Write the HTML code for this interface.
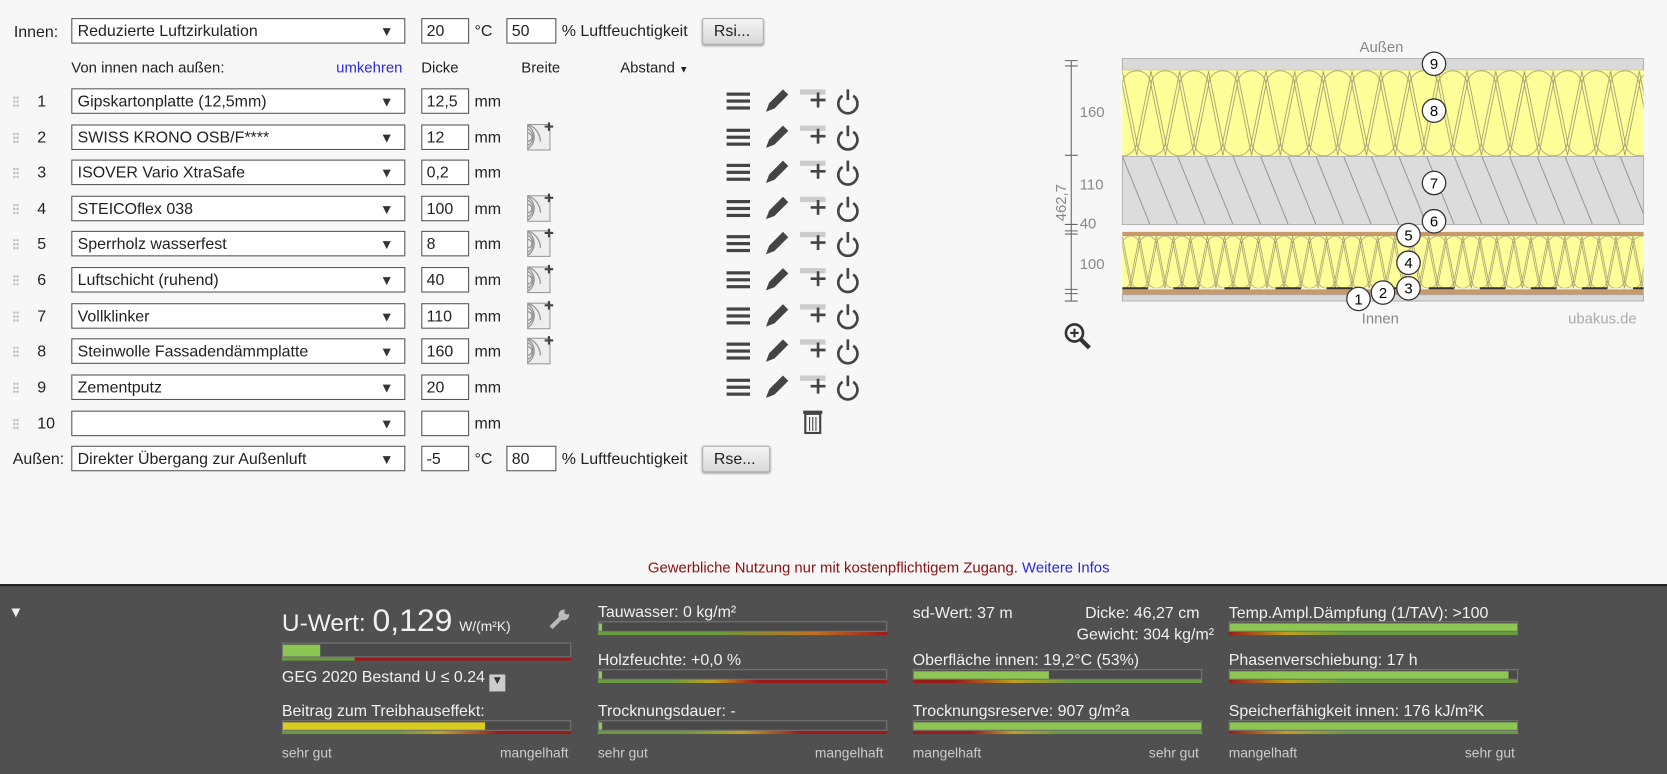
<!DOCTYPE html>
<html><head><meta charset="utf-8"><style>
html,body{margin:0;padding:0;background:#f7f7f7;overflow:hidden}
#w{position:absolute;left:0;top:0;width:1567px;height:726px;transform:scale(1.06382);transform-origin:0 0;font-family:"Liberation Sans",sans-serif;font-size:15px;color:#222;background:#f7f7f7}
.a{position:absolute;white-space:nowrap}
.sel{position:absolute;left:67px;width:314px;height:24px;border:1px solid #555;background:#fff;box-sizing:border-box;padding:3px 5px;font-size:15px}
.sel:after{content:"▼";position:absolute;right:10px;top:4px;font-size:13px;color:#333}
.in{position:absolute;height:24px;border:1px solid #555;background:#fff;box-sizing:border-box;padding:3px 4px}
.btn{position:absolute;height:25px;border:1px solid #aaa;border-radius:2px;background:linear-gradient(#f4f4f4,#d8d8d8);box-sizing:border-box;padding:3px 10px;box-shadow:0 1px 2px #999}
.dots{position:absolute;left:12px;width:6px;height:11px;background:radial-gradient(circle,#bbb 1px,transparent 1.3px) 0 0/3px 3.7px}
#b{position:absolute;left:0;top:549px;width:1567px;height:177px;background:#505050;border-top:2px solid #222;color:#eee}
#b .a{color:#f0f0f0}
.bar{position:absolute;height:10px;border:1px solid #777;box-sizing:border-box;background:#4a4a4a}
.fill{position:absolute;left:0;top:1px;height:7px;background:#8dc653}
.sc{position:absolute;height:3px}
.small{font-size:13px;color:#ccc!important}
</style></head><body><div id="w">

<div class="a" style="left:13px;top:22px">Innen:</div>
<div class="sel" style="top:17px">Reduzierte Luftzirkulation</div>
<div class="in" style="left:396px;top:17px;width:45px">20</div>
<div class="a" style="left:446px;top:21px">°C</div>
<div class="in" style="left:476px;top:17px;width:47px">50</div>
<div class="a" style="left:528px;top:21px">% Luftfeuchtigkeit</div>
<div class="btn" style="left:660px;top:17px;width:58px">Rsi...</div>

<div class="a" style="left:67px;top:55px;font-size:14px">Von innen nach außen:</div>
<div class="a" style="left:316px;top:55px;font-size:14px;color:#2a2ae0">umkehren</div>
<div class="a" style="left:396px;top:55px;font-size:14px">Dicke</div>
<div class="a" style="left:490px;top:55px;font-size:14px">Breite</div>
<div class="a" style="left:583px;top:55px;font-size:14px">Abstand <span style="font-size:9px">▼</span></div>

<svg width="0" height="0" style="position:absolute"><defs>
<g id="ic">
<rect x="683" y="-8" width="22" height="3" fill="#444"/><rect x="683" y="-1.5" width="22" height="3" fill="#444"/><rect x="683" y="5" width="22" height="3" fill="#444"/>
<path d="M720 10 l3-8 13-13 5 5-13 13z" fill="#444"/>
<rect x="752" y="-11" width="24" height="5" fill="#ccc"/><path d="M769-8v14M762-1h14" stroke="#444" stroke-width="2.5"/>
<path d="M792-5 a9 9 0 1 0 10 0" fill="none" stroke="#444" stroke-width="2.5"/><path d="M797-11v10" stroke="#444" stroke-width="2.5"/>
</g>
<g id="wd"><rect x="496" y="-12" width="21" height="24" fill="#eee" stroke="#999"/><path d="M496-8a9 9 0 0 1 0 16M496-4a4 4 0 0 1 0 8M496-11a13 13 0 0 1 0 22M496-12a17 17 0 0 1 12 16" fill="none" stroke="#999" stroke-width="1.3"/><path d="M516-14v8M512-10h8" stroke="#444" stroke-width="2"/></g>
</defs></svg>

<svg class="a" style="left:0;top:0" width="860" height="420">
<g transform="translate(0,95)"><use href="#ic"/></g>
<g transform="translate(0,129)"><use href="#ic"/><use href="#wd"/></g>
<g transform="translate(0,162)"><use href="#ic"/></g>
<g transform="translate(0,196)"><use href="#ic"/><use href="#wd"/></g>
<g transform="translate(0,229)"><use href="#ic"/><use href="#wd"/></g>
<g transform="translate(0,263)"><use href="#ic"/><use href="#wd"/></g>
<g transform="translate(0,297)"><use href="#ic"/><use href="#wd"/></g>
<g transform="translate(0,330)"><use href="#ic"/><use href="#wd"/></g>
<g transform="translate(0,364)"><use href="#ic"/></g>
<g transform="translate(0,398)"><rect x="757" y="-9" width="14" height="18" fill="none" stroke="#444" stroke-width="2"/><rect x="755" y="-12" width="18" height="3" fill="#444"/><path d="M761-6v13M764-6v13M767-6v13" stroke="#444"/></g>
</svg>

<div class="dots" style="top:90px"></div><div class="a" style="left:35px;top:87px">1</div><div class="sel" style="top:83px">Gipskartonplatte (12,5mm)</div><div class="in" style="left:396px;top:83px;width:45px">12,5</div><div class="a" style="left:446px;top:87px">mm</div>
<div class="dots" style="top:124px"></div><div class="a" style="left:35px;top:121px">2</div><div class="sel" style="top:117px">SWISS KRONO OSB/F****</div><div class="in" style="left:396px;top:117px;width:45px">12</div><div class="a" style="left:446px;top:121px">mm</div>
<div class="dots" style="top:157px"></div><div class="a" style="left:35px;top:154px">3</div><div class="sel" style="top:150px">ISOVER Vario XtraSafe</div><div class="in" style="left:396px;top:150px;width:45px">0,2</div><div class="a" style="left:446px;top:154px">mm</div>
<div class="dots" style="top:191px"></div><div class="a" style="left:35px;top:188px">4</div><div class="sel" style="top:184px">STEICOflex 038</div><div class="in" style="left:396px;top:184px;width:45px">100</div><div class="a" style="left:446px;top:188px">mm</div>
<div class="dots" style="top:224px"></div><div class="a" style="left:35px;top:221px">5</div><div class="sel" style="top:217px">Sperrholz wasserfest</div><div class="in" style="left:396px;top:217px;width:45px">8</div><div class="a" style="left:446px;top:221px">mm</div>
<div class="dots" style="top:258px"></div><div class="a" style="left:35px;top:255px">6</div><div class="sel" style="top:251px">Luftschicht (ruhend)</div><div class="in" style="left:396px;top:251px;width:45px">40</div><div class="a" style="left:446px;top:255px">mm</div>
<div class="dots" style="top:292px"></div><div class="a" style="left:35px;top:289px">7</div><div class="sel" style="top:285px">Vollklinker</div><div class="in" style="left:396px;top:285px;width:45px">110</div><div class="a" style="left:446px;top:289px">mm</div>
<div class="dots" style="top:325px"></div><div class="a" style="left:35px;top:322px">8</div><div class="sel" style="top:318px">Steinwolle Fassadendämmplatte</div><div class="in" style="left:396px;top:318px;width:45px">160</div><div class="a" style="left:446px;top:322px">mm</div>
<div class="dots" style="top:359px"></div><div class="a" style="left:35px;top:356px">9</div><div class="sel" style="top:352px">Zementputz</div><div class="in" style="left:396px;top:352px;width:45px">20</div><div class="a" style="left:446px;top:356px">mm</div>
<div class="dots" style="top:393px"></div><div class="a" style="left:35px;top:390px">10</div><div class="sel" style="top:386px"></div><div class="in" style="left:396px;top:386px;width:45px"></div><div class="a" style="left:446px;top:390px">mm</div>

<div class="a" style="left:12px;top:423px">Außen:</div>
<div class="sel" style="top:419px">Direkter Übergang zur Außenluft</div>
<div class="in" style="left:396px;top:419px;width:45px">-5</div>
<div class="a" style="left:446px;top:423px">°C</div>
<div class="in" style="left:476px;top:419px;width:47px">80</div>
<div class="a" style="left:528px;top:423px">% Luftfeuchtigkeit</div>
<div class="btn" style="left:660px;top:419px;width:64px">Rse...</div>

<div class="a" style="left:609px;top:525px;font-size:14px;color:#8b1010">Gewerbliche Nutzung nur mit kostenpflichtigem Zugang. <span style="color:#2a2ae0">Weitere Infos</span></div>

<svg class="a" style="left:0;top:0" width="1567" height="340">
<defs>
<pattern id="ins" width="27" height="81" patternUnits="userSpaceOnUse" x="1055" y="66"><rect width="27" height="81" fill="#ffff99"/><path d="M0 14 A13.5 13.5 0 0 1 27 14 L13.5 80 Z M-13.5 67 A13.5 13.5 0 0 0 13.5 67 L0 1 Z M13.5 67 A13.5 13.5 0 0 0 40.5 67 L27 1 Z" fill="none" stroke="#a09a70" stroke-width=".8"/></pattern>
<pattern id="ins2" width="16" height="49" patternUnits="userSpaceOnUse" x="1055" y="222"><rect width="16" height="49" fill="#ffff99"/><path d="M0 8 A8 8 0 0 1 16 8 L8 49 Z M-8 41 A8 8 0 0 0 8 41 L0 0 Z M8 41 A8 8 0 0 0 24 41 L16 0 Z" fill="none" stroke="#a09a70" stroke-width=".7"/></pattern>
<pattern id="hat" width="26" height="64" patternUnits="userSpaceOnUse" x="1055" y="147"><rect width="26" height="64" fill="#dcdcdc"/><path d="M0 0 L26 64" stroke="#888" stroke-width=".8"/></pattern>
</defs>
<rect x="1055" y="55" width="490" height="11" fill="#dadada" stroke="#aaa" stroke-width=".8"/>
<rect x="1055" y="66" width="490" height="81" fill="url(#ins)"/>
<rect x="1055" y="147" width="490" height="64" fill="url(#hat)" stroke="#aaa" stroke-width=".8"/>
<rect x="1055" y="218" width="490" height="4" fill="#c89a6a"/>
<rect x="1055" y="222" width="490" height="49" fill="url(#ins2)"/>
<path d="M1055 271 H1545" stroke="#333" stroke-width="2" stroke-dasharray="24 24"/>
<rect x="1055" y="272" width="490" height="5" fill="#c89a6a"/>
<rect x="1055" y="277" width="490" height="6" fill="#dadada" stroke="#aaa" stroke-width=".8"/>
<g stroke="#666" stroke-width="1"><path d="M1007 57V283M1001 57h12M1001 62h12M1001 146h12M1001 211h12M1001 217h12M1001 220h12M1001 272h12M1001 276h12M1001 283h12"/></g>
<g fill="#888" font-size="14" font-family="Liberation Sans"><text x="1015" y="110">160</text><text x="1015" y="178">110</text><text x="1015" y="215">40</text><text x="1015" y="253">100</text>
<text transform="translate(1002,208) rotate(-90)">462,7</text>
<text x="1278" y="49">Außen</text><text x="1280" y="304">Innen</text><text x="1474" y="304" fill="#aaa">ubakus.de</text></g>
<g font-size="14" font-family="Liberation Sans" text-anchor="middle">
<g fill="#fff" stroke="#333" stroke-width="1.2"><circle cx="1348" cy="60" r="11"/><circle cx="1348" cy="104" r="11"/><circle cx="1348" cy="172" r="11"/><circle cx="1348" cy="208" r="11"/><circle cx="1324" cy="221" r="11"/><circle cx="1324" cy="247" r="11"/><circle cx="1324" cy="271" r="11"/><circle cx="1300" cy="275" r="11"/><circle cx="1277" cy="281" r="11"/></g>
<text x="1348" y="65">9</text><text x="1348" y="109">8</text><text x="1348" y="177">7</text><text x="1348" y="213">6</text><text x="1324" y="226">5</text><text x="1324" y="252">4</text><text x="1324" y="276">3</text><text x="1300" y="280">2</text><text x="1277" y="286">1</text></g>
<circle cx="1010" cy="313" r="8" fill="none" stroke="#333" stroke-width="2.5"/><path d="M1016 319l8 8" stroke="#333" stroke-width="4"/><path d="M1010 309v8M1006 313h8" stroke="#333" stroke-width="2"/>
</svg>

<div id="b">
<div class="a" style="left:8px;top:16px;font-size:14px">▼</div>
<div class="a" style="left:265px;top:16px;font-size:23px">U-Wert: <span style="font-size:30px">0,129</span> <span style="font-size:13px">W/(m²K)</span></div>
<svg class="a" style="left:515px;top:20px" width="22" height="22"><path d="M3 19 L14 8" stroke="#bbb" stroke-width="4"/><circle cx="15" cy="7" r="5" fill="#bbb"/><circle cx="18" cy="4" r="2.5" fill="#505050"/></svg>
<div class="bar" style="left:265px;top:53px;width:272px;height:14px"><div class="fill" style="width:35px;height:11px;top:1px"></div></div>
<div class="sc" style="left:265px;top:67px;width:272px;background:linear-gradient(90deg,#6a9a40 25%,#9b1b1b 25%)"></div>
<div class="a" style="left:265px;top:77px;font-size:15px">GEG 2020 Bestand U ≤ 0.24 <span style="display:inline-block;width:15px;height:16px;background:#ccc;color:#333;font-size:11px;text-align:center;vertical-align:-2px">▼</span></div>
<div class="a" style="left:265px;top:109px">Beitrag zum Treibhauseffekt:</div>
<div class="bar" style="left:265px;top:126px;width:272px"><div class="fill" style="width:190px;background:#d8cc20"></div></div>
<div class="sc" style="left:265px;top:136px;width:272px;background:linear-gradient(90deg,#6a9a40 40%,#c0a020 55%,#9b1b1b 75%)"></div>
<div class="a small" style="left:265px;top:149px">sehr gut</div><div class="a small" style="left:470px;top:149px">mangelhaft</div>

<div class="a" style="left:562px;top:16px">Tauwasser: 0 kg/m²</div>
<div class="bar" style="left:562px;top:33px;width:272px"><div class="fill" style="width:3px"></div></div>
<div class="sc" style="left:562px;top:43px;width:272px;background:linear-gradient(90deg,#6a9a40 40%,#c07020 75%,#9b1b1b)"></div>
<div class="a" style="left:562px;top:61px">Holzfeuchte: +0,0 %</div>
<div class="bar" style="left:562px;top:78px;width:272px"><div class="fill" style="width:3px"></div></div>
<div class="sc" style="left:562px;top:88px;width:272px;background:linear-gradient(90deg,#6a9a40 25%,#c0a020 40%,#9b1b1b 55%)"></div>
<div class="a" style="left:562px;top:109px">Trocknungsdauer: -</div>
<div class="bar" style="left:562px;top:126px;width:272px"><div class="fill" style="width:3px"></div></div>
<div class="sc" style="left:562px;top:136px;width:272px;background:linear-gradient(90deg,#6a9a40 30%,#c0a020 50%,#9b1b1b 70%)"></div>
<div class="a small" style="left:562px;top:149px">sehr gut</div><div class="a small" style="left:766px;top:149px">mangelhaft</div>

<div class="a" style="left:858px;top:17px">sd-Wert: 37 m</div>
<div class="a" style="left:1020px;top:17px">Dicke: 46,27 cm</div>
<div class="a" style="left:1012px;top:37px">Gewicht: 304 kg/m²</div>
<div class="a" style="left:858px;top:61px">Oberfläche innen: 19,2°C (53%)</div>
<div class="bar" style="left:858px;top:78px;width:272px"><div class="fill" style="width:127px"></div></div>
<div class="sc" style="left:858px;top:88px;width:272px;background:linear-gradient(90deg,#9b1b1b 15%,#c0a020 35%,#6a9a40 55%)"></div>
<div class="a" style="left:858px;top:109px">Trocknungsreserve: 907 g/m²a</div>
<div class="bar" style="left:858px;top:126px;width:272px"><div class="fill" style="width:270px"></div></div>
<div class="sc" style="left:858px;top:136px;width:272px;background:linear-gradient(90deg,#9b1b1b 20%,#c0a020 35%,#6a9a40 50%)"></div>
<div class="a small" style="left:858px;top:149px">mangelhaft</div><div class="a small" style="left:1080px;top:149px">sehr gut</div>

<div class="a" style="left:1155px;top:17px">Temp.Ampl.Dämpfung (1/TAV): &gt;100</div>
<div class="bar" style="left:1155px;top:33px;width:272px"><div class="fill" style="width:270px"></div></div>
<div class="sc" style="left:1155px;top:43px;width:272px;background:linear-gradient(90deg,#9b1b1b,#c0a020 20%,#6a9a40 40%)"></div>
<div class="a" style="left:1155px;top:61px">Phasenverschiebung: 17 h</div>
<div class="bar" style="left:1155px;top:78px;width:272px"><div class="fill" style="width:262px"></div></div>
<div class="sc" style="left:1155px;top:88px;width:272px;background:linear-gradient(90deg,#9b1b1b,#c0a020 20%,#6a9a40 40%)"></div>
<div class="a" style="left:1155px;top:109px">Speicherfähigkeit innen: 176 kJ/m²K</div>
<div class="bar" style="left:1155px;top:126px;width:272px"><div class="fill" style="width:270px"></div></div>
<div class="sc" style="left:1155px;top:136px;width:272px;background:linear-gradient(90deg,#9b1b1b,#c0a020 20%,#6a9a40 40%)"></div>
<div class="a small" style="left:1155px;top:149px">mangelhaft</div><div class="a small" style="left:1377px;top:149px">sehr gut</div>
</div>
</div></body></html>
